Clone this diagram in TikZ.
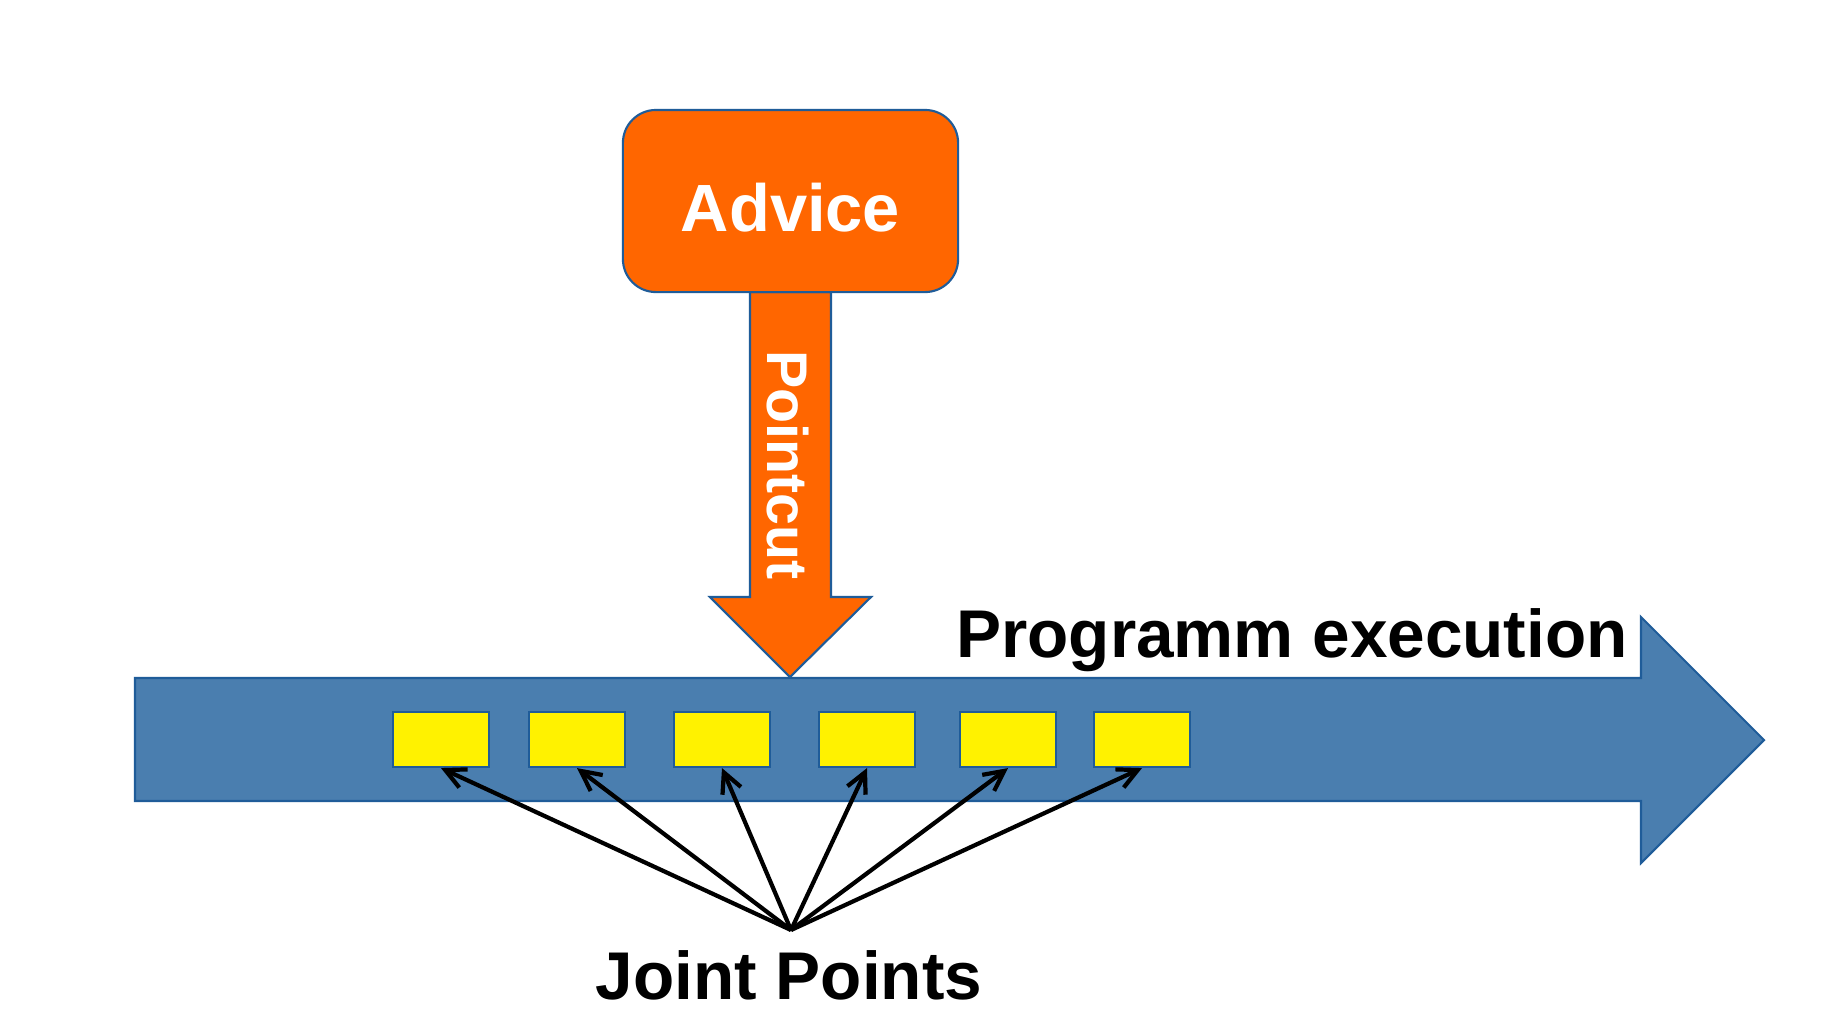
\documentclass[tikz,border=0pt]{standalone}
\usepackage{fontspec}
\setmainfont{Liberation Sans}
\usetikzlibrary{arrows.meta,positioning,calc}
\definecolor{adviceorange}{HTML}{FF6600}
\definecolor{flowblue}{HTML}{4A7EAF}
\definecolor{edgeblue}{HTML}{1F5C99}

\begin{document}
\begin{tikzpicture}[x=0.01cm,y=-0.01cm,>=Stealth,
  jpbox/.style={draw=edgeblue,line width=0.6pt,fill=yellow,minimum width=0.96cm,minimum height=0.55cm,inner sep=0pt},
  jparrow/.style={-{Straight Barb[length=2mm,width=2mm]},line width=1.2pt}]
\fill[white] (0,0) rectangle (1821,1014);
% program flow
\filldraw[fill=flowblue,draw=edgeblue,line width=0.6pt] (135,678) -- (1641,678) -- (1641,617) -- (1764,740) -- (1641,863) -- (1641,801) -- (135,801) -- cycle;
\node[font=\bfseries\fontsize{19.2}{22}\selectfont] (prog) at (1292,640) {Programm execution};
% pointcut
\filldraw[fill=adviceorange,draw=edgeblue,line width=0.6pt] (750,292) -- (750,597) -- (710,597) -- (790,677) -- (871,597) -- (831,597) -- (831,292) -- cycle;
\node[rotate=-90,text=white,font=\bfseries\fontsize{16.3}{18}\selectfont] (pc) at (788,465) {Pointcut};
\node[draw=edgeblue,line width=0.6pt,fill=adviceorange,rounded corners=0.33cm,minimum width=3.35cm,minimum height=1.82cm,text height=0.61cm,text=white,font=\bfseries\fontsize{19}{22}\selectfont] (advice) at (790.5,201) {Advice};
% joint points
\foreach \i/\x in {1/441,2/577,3/722,4/867,5/1008,6/1142}
  \node[jpbox] (jp\i) at (\x,739.5) {};
\node[font=\bfseries\fontsize{19.2}{22}\selectfont] (jplabel) at (789,975) {Joint Points};
\coordinate (src) at (791,930);
\foreach \i in {1,...,6}
  \draw[jparrow] (src) -- (jp\i.south);
\end{tikzpicture}
\end{document}
